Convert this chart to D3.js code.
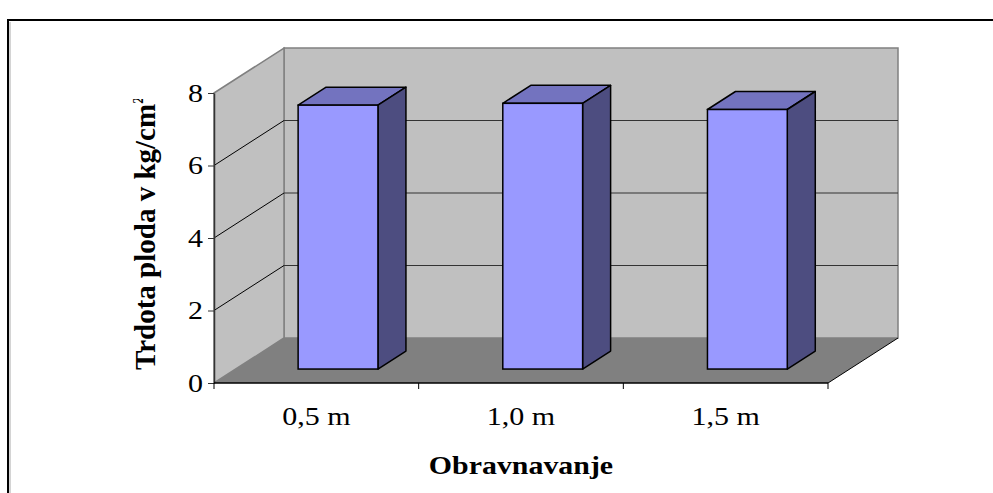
<!DOCTYPE html>
<html>
<head>
<meta charset="utf-8">
<script src="https://cdn.jsdelivr.net/npm/d3@7"></script>
<style>
    html, body { margin: 0; padding: 0; background: #fff; }
    svg { display: block; }
    text { font-family: "Liberation Serif", "Times New Roman", serif; fill: #000; }
</style>
</head>
<body>
<div id="chart"></div>
<script>
// data
const categories = ['0,5 m', '1,0 m', '1,5 m'];
const values = [7.28, 7.33, 7.16];
const yTicks = [0, 2, 4, 6, 8];
const yTitle = 'Trdota ploda v kg/cm';
const xTitle = 'Obravnavanje';

const width = 993, height = 493;
// front plane of the 3d box
const plot = { left: 214, right: 828, top: 93, bottom: 383 };
// full depth offset of the back wall
const depth = { dx: 70, dy: -45 };
// bar sits between these fractions of the depth
const barFront = 0.31, barBack = 0.71;
const barFrac = 0.39;

const svg = d3.select('#chart').append('svg')
    .attr('width', width)
    .attr('height', height);

// clip for the y title (its superscript is cut off in the original)
svg.append('defs').append('clipPath').attr('id', 'ytclip')
    .append('rect').attr('x', 100).attr('y', 99).attr('width', 80).attr('height', 300);

// outer frame (runs off right and bottom)
svg.append('rect')
    .attr('x', 8).attr('y', 20)
    .attr('width', 1100).attr('height', 600)
    .attr('fill', 'none')
    .attr('stroke', '#000')
    .attr('stroke-width', 2);
svg.append('line')
    .attr('x1', 10).attr('x2', 10).attr('y1', 22).attr('y2', height)
    .attr('stroke', '#aaa').attr('stroke-width', 1);

const x = d3.scaleBand()
    .domain(categories)
    .range([plot.left, plot.right])
    .padding(0);

const y = d3.scaleLinear()
    .domain([0, 8])
    .range([plot.bottom, plot.top]);

// shift a front point back by fraction f of the depth
const sx = f => depth.dx * f;
const sy = f => depth.dy * f;
const pts = arr => arr.map(p => p.join(',')).join(' ');

const x0 = x.range()[0], x1 = x.range()[1];
const yb = y(0), yt = y(8);

// back wall
svg.append('polygon')
    .attr('points', pts([[x0 + sx(1), yt + sy(1)], [x1 + sx(1), yt + sy(1)], [x1 + sx(1), yb + sy(1)], [x0 + sx(1), yb + sy(1)]]))
    .attr('fill', '#c0c0c0')
    .attr('stroke', '#808080')
    .attr('stroke-width', 1.5);

// side wall
svg.append('polygon')
    .attr('points', pts([[x0, yt], [x0 + sx(1), yt + sy(1)], [x0 + sx(1), yb + sy(1)], [x0, yb]]))
    .attr('fill', '#c0c0c0')
    .attr('stroke', '#808080')
    .attr('stroke-width', 1.5);

// floor
svg.append('polygon')
    .attr('points', pts([[x0, yb], [x1, yb], [x1 + sx(1), yb + sy(1)], [x0 + sx(1), yb + sy(1)]]))
    .attr('fill', '#808080');
svg.append('line')
    .attr('x1', x1).attr('y1', yb)
    .attr('x2', x1 + sx(1)).attr('y2', yb + sy(1))
    .attr('stroke', '#000').attr('stroke-width', 1);

// gridlines: diagonal on side wall, horizontal on back wall
const grid = yTicks.filter(t => t > 0 && t < 8);
svg.append('g').selectAll('line.diag')
    .data(grid)
    .join('line')
    .attr('x1', x0).attr('y1', d => y(d))
    .attr('x2', x0 + sx(1)).attr('y2', d => y(d) + sy(1))
    .attr('stroke', '#000').attr('stroke-width', 1);
svg.append('g').selectAll('line.back')
    .data(grid)
    .join('line')
    .attr('x1', x0 + sx(1)).attr('y1', d => y(d) + sy(1))
    .attr('x2', x1 + sx(1)).attr('y2', d => y(d) + sy(1))
    .attr('stroke', '#333').attr('stroke-width', 1);

// bars
const bw = x.bandwidth() * barFrac;
const bars = svg.append('g')
    .selectAll('g')
    .data(categories.map((c, i) => ({ cat: c, value: values[i] })))
    .join('g');

function barGeom(d) {
    const l = x(d.cat) + (x.bandwidth() - bw) / 2 + sx(barFront);
    const r = l + bw;
    const top = y(d.value) + sy(barFront);
    const bot = y(0) + sy(barFront);
    const ddx = sx(barBack - barFront), ddy = sy(barBack - barFront);
    return { l, r, top, bot, ddx, ddy };
}

bars.append('polygon') // top face
    .attr('points', d => {
        const g = barGeom(d);
        return pts([[g.l, g.top], [g.r, g.top], [g.r + g.ddx, g.top + g.ddy], [g.l + g.ddx, g.top + g.ddy]]);
    })
    .attr('fill', '#7373bf')
    .attr('stroke', '#000').attr('stroke-width', 1.5).attr('stroke-linejoin', 'round');

bars.append('polygon') // side face
    .attr('points', d => {
        const g = barGeom(d);
        return pts([[g.r, g.top], [g.r + g.ddx, g.top + g.ddy], [g.r + g.ddx, g.bot + g.ddy], [g.r, g.bot]]);
    })
    .attr('fill', '#4d4d80')
    .attr('stroke', '#000').attr('stroke-width', 1.5).attr('stroke-linejoin', 'round');

bars.append('rect') // front face
    .attr('x', d => barGeom(d).l)
    .attr('y', d => barGeom(d).top)
    .attr('width', bw)
    .attr('height', d => barGeom(d).bot - barGeom(d).top)
    .attr('fill', '#9999ff')
    .attr('stroke', '#000').attr('stroke-width', 1.5);

// y axis
const yAxis = svg.append('g')
    .attr('transform', `translate(${x0},0)`)
    .call(d3.axisLeft(y).tickValues(yTicks).tickSize(6).tickSizeOuter(0));
yAxis.select('.domain').attr('stroke', '#333').attr('stroke-width', 1.5);
yAxis.selectAll('.tick line').attr('stroke', '#333');
yAxis.selectAll('.tick text')
    .attr('x', null)
    .attr('transform', 'translate(-11,0) scale(1.2,1)')
    .attr('font-size', 25)
    .attr('font-family', '"Liberation Serif", serif')
    .attr('fill', '#000');

// x axis line and boundary ticks
svg.append('line')
    .attr('x1', x0).attr('x2', x1).attr('y1', yb).attr('y2', yb)
    .attr('stroke', '#000').attr('stroke-width', 1.5);
svg.append('g').selectAll('line')
    .data(categories.map(c => x(c)).concat([x1]))
    .join('line')
    .attr('x1', d => d).attr('x2', d => d)
    .attr('y1', yb).attr('y2', yb + 6)
    .attr('stroke', '#000').attr('stroke-width', 1);

const xAxis = svg.append('g')
    .attr('transform', `translate(0,${yb})`)
    .call(d3.axisBottom(x).tickSize(0).tickPadding(0));
xAxis.select('.domain').remove();
xAxis.selectAll('.tick text')
    .attr('y', null).attr('dy', null)
    .attr('transform', 'translate(0,42) scale(1.2,1)')
    .attr('font-size', 25)
    .attr('font-family', '"Liberation Serif", serif')
    .attr('fill', '#000');

// axis titles
svg.append('text')
    .attr('transform', `translate(${(x0 + x1) / 2},474) scale(1.15,1)`)
    .attr('text-anchor', 'middle')
    .attr('font-size', 26)
    .attr('font-weight', 'bold')
    .text(xTitle);

const yt2 = svg.append('g')
    .attr('clip-path', 'url(#ytclip)')
    .append('text')
    .attr('transform', 'translate(155,370) rotate(-90)')
    .attr('text-anchor', 'start')
    .attr('font-size', 29)
    .attr('font-weight', 'bold')
    .text(yTitle);
yt2.append('tspan')
    .attr('font-size', 14)
    .attr('dy', -12)
    .text('2');
</script>
</body>
</html>
